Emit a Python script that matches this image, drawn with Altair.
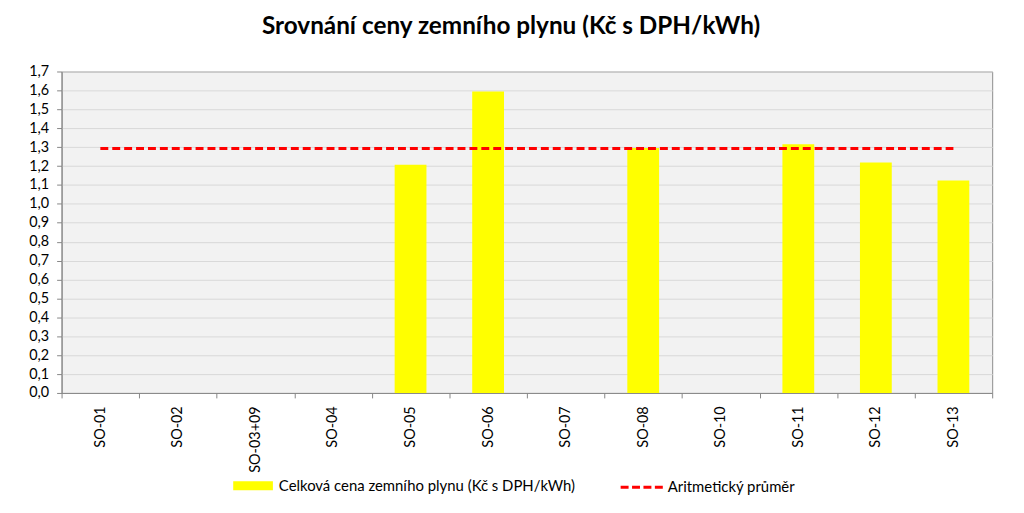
import altair as alt
import pandas as pd

categories = ["SO-01", "SO-02", "SO-03+09", "SO-04", "SO-05", "SO-06",
              "SO-07", "SO-08", "SO-10", "SO-11", "SO-12", "SO-13"]
values = [None, None, None, None, 1.207, 1.594, None, 1.296, None, 1.315, 1.219, 1.123]
y_ticks = [0.0, 0.1, 0.2, 0.3, 0.4, 0.5, 0.6, 0.7, 0.8, 0.9,
           1.0, 1.1, 1.2, 1.3, 1.4, 1.5, 1.6, 1.7]
bar_label = "Celková cena zemního plynu (Kč s DPH/kWh)"
line_label = "Aritmetický průměr"
title_text = "Srovnání ceny zemního plynu (Kč s DPH/kWh)"

df = pd.DataFrame({"kategorie": categories, "cena": values})

FONT = "Lato"
AXIS_GRAY = "#868686"

x_enc = alt.X(
    "kategorie:N", sort=categories,
    scale=alt.Scale(paddingInner=0, paddingOuter=0),
    axis=alt.Axis(title=None, labelAngle=-90, labelAlign="right", labelBaseline="middle",
                  tickBand="extent", tickSize=5, tickColor=AXIS_GRAY, domainColor=AXIS_GRAY,
                  labelPadding=8, labelFont=FONT, labelFontSize=14.5, labelColor="#000000",
                  grid=False),
)
y_axis = alt.Axis(title=None, values=y_ticks,
                  labelExpr="replace(format(datum.value, '.1f'), '.', ',')",
                  tickSize=5, tickColor=AXIS_GRAY, domainColor=AXIS_GRAY,
                  gridColor="#D9D9D9", grid=True, labelPadding=8,
                  labelFont=FONT, labelFontSize=14.5, labelColor="#000000")

bars = alt.Chart(df).transform_calculate(
    serie=f"'{bar_label}'"
).mark_bar(width=alt.RelativeBandSize(0.41)).encode(
    x=x_enc,
    y=alt.Y("cena:Q", scale=alt.Scale(domain=[0, 1.7], nice=False), axis=y_axis),
    color=alt.Color("serie:N", scale=alt.Scale(range=["#FFFF00"]),
                    legend=alt.Legend(title=None, orient="none", legendX=173, legendY=397.5,
                                      symbolType="M-1,-0.225H1V0.225H-1Z", symbolSize=1600,
                                      symbolStrokeWidth=0, labelOffset=6, labelLimit=500,
                                      labelFont=FONT, labelFontSize=15, labelColor="#000000",
                                      padding=0)),
)

line = alt.Chart(df).transform_joinaggregate(
    prumer="mean(cena)"
).transform_calculate(
    serie2=f"'{line_label}'"
).mark_line(strokeDash=[8, 4], strokeWidth=3).encode(
    x=x_enc,
    y=alt.Y("prumer:Q", scale=alt.Scale(domain=[0, 1.7], nice=False), axis=y_axis),
    color=alt.Color("serie2:N", scale=alt.Scale(range=["#FF0000"]),
                    legend=alt.Legend(title=None, orient="none", legendX=562, legendY=395.5,
                                      symbolType="stroke", symbolSize=1936,
                                      symbolStrokeWidth=3, symbolDash=[8, 3.5],
                                      labelOffset=2, labelLimit=500,
                                      labelFont=FONT, labelFontSize=15, labelColor="#000000",
                                      padding=0)),
)

chart = alt.layer(bars, line).resolve_scale(color="independent").properties(
    width=938, height=324,
    autosize=alt.AutoSizeParams(type="none"),
    padding={"left": 54, "top": 62, "right": 24, "bottom": 119},
    title=alt.Title(title_text, font=FONT, fontSize=24.5, fontWeight="bold", color="#000000",
                    anchor="middle", dx=-16, offset=24),
    background="#FFFFFF",
).configure_view(stroke="#8C8C8C", strokeWidth=1, fill="#F2F2F2")

chart.save("out.html", embed_options={"renderer": "svg", "actions": False})
